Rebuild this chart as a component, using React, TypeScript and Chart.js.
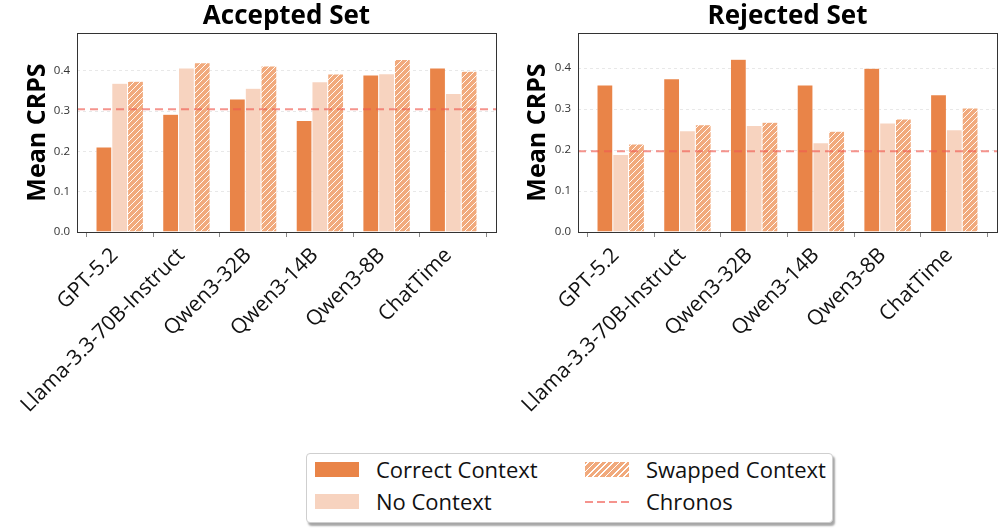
import { useEffect, useRef } from "react";
import { Chart, registerables } from "chart.js";
Chart.register(...registerables);

const models = ["GPT-5.2", "Llama-3.3-70B-Instruct", "Qwen3-32B", "Qwen3-14B", "Qwen3-8B", "ChatTime"];
const yTicks = [0, 0.1, 0.2, 0.3, 0.4];

const acceptedCorrect = [0.211, 0.292, 0.33, 0.277, 0.39, 0.407];
const acceptedNone = [0.369, 0.407, 0.357, 0.373, 0.393, 0.344];
const acceptedSwapped = [0.374, 0.42, 0.412, 0.392, 0.428, 0.399];
const acceptedChronos = 0.305;

const rejectedCorrect = [0.359, 0.374, 0.422, 0.359, 0.4, 0.335];
const rejectedNone = [0.189, 0.247, 0.26, 0.218, 0.266, 0.25];
const rejectedSwapped = [0.215, 0.262, 0.268, 0.246, 0.276, 0.303];
const rejectedChronos = 0.197;

const FONT = "'Open Sans', sans-serif";
const CORRECT = "#E98448";
const NONE = "#F7D3BF";
const SWAP = "#F1AA7D";
const CHRONOS = "rgba(240, 90, 80, 0.65)";

// hatch tile for the swapped-context bars ("///")
function hatch(base: string) {
  const s = 6;
  const c = document.createElement("canvas");
  c.width = s;
  c.height = s;
  const g = c.getContext("2d")!;
  g.fillStyle = base;
  g.fillRect(0, 0, s, s);
  g.strokeStyle = "rgba(255,255,255,0.95)";
  g.lineWidth = 1;
  for (const k of [-1, 0, 1]) {
    g.beginPath();
    g.moveTo(k * s, s);
    g.lineTo(k * s + s, 0);
    g.stroke();
  }
  return g.createPattern(c, "repeat")!;
}

type PanelProps = {
  title: string;
  correct: number[];
  none: number[];
  swapped: number[];
  chronos: number;
  yMax: number;
  yAxisWidth: number;
  padRight: number;
  left: number;
  width: number;
};

function Panel({ title, correct, none, swapped, chronos, yMax, yAxisWidth, padRight, left, width }: PanelProps) {
  const canvasRef = useRef<HTMLCanvasElement>(null);

  useEffect(() => {
    if (!canvasRef.current) return;
    const ctx = canvasRef.current.getContext("2d");
    if (!ctx) return;

    const pts = (vals: number[]) => vals.map((v, i) => ({ x: i, y: v }));
    const bar = { borderColor: "#ffffff", borderWidth: 0.5, categoryPercentage: 0.71, barPercentage: 1 };

    const decor = {
      id: "decor",
      afterDatasetsDraw(chart: any) {
        const { ctx: c, chartArea: a, scales } = chart;
        const y = scales.y.getPixelForValue(chronos);
        c.save();
        c.strokeStyle = CHRONOS;
        c.lineWidth = 2;
        c.setLineDash([8, 5]);
        c.beginPath();
        c.moveTo(a.left, y);
        c.lineTo(a.right, y);
        c.stroke();
        c.restore();
      },
      afterDraw(chart: any) {
        const { ctx: c, chartArea: a } = chart;
        c.save();
        c.strokeStyle = "#333";
        c.lineWidth = 1;
        c.strokeRect(a.left + 0.5, a.top + 0.5, a.right - a.left, a.bottom - a.top);
        c.fillStyle = "#000";
        c.font = `bold 26px ${FONT}`;
        c.textAlign = "center";
        c.textBaseline = "middle";
        c.fillText(title, (a.left + a.right) / 2, 17);
        c.restore();
      },
    };

    const chart = new Chart(ctx, {
      type: "bar",
      data: {
        datasets: [
          { label: "Correct Context", data: pts(correct), backgroundColor: CORRECT, ...bar },
          { label: "No Context", data: pts(none), backgroundColor: NONE, ...bar },
          { label: "Swapped Context", data: pts(swapped), backgroundColor: hatch(SWAP), ...bar },
        ],
      } as any,
      options: {
        animation: false,
        responsive: true,
        maintainAspectRatio: false,
        layout: { padding: { top: 33, right: padRight, left: 0, bottom: 0 } },
        plugins: { legend: { display: false }, title: { display: false }, tooltip: { enabled: false } },
        scales: {
          x: {
            type: "linear",
            min: -0.64,
            max: 5.64,
            offset: false,
            afterBuildTicks: (s: any) => {
              s.ticks = models.map((_, i) => ({ value: i }));
            },
            afterFit: (s: any) => {
              s.height = 208;
            },
            grid: { drawOnChartArea: false, drawTicks: true, tickLength: 5, tickColor: "#888" },
            border: { display: false },
            ticks: {
              autoSkip: false,
              minRotation: 45,
              maxRotation: 45,
              padding: 6,
              labelOffset: -5,
              color: "#111",
              font: { family: FONT, size: 21 },
              callback: (v: any) => models[v] ?? "",
            },
          },
          y: {
            min: 0,
            max: yMax,
            afterBuildTicks: (s: any) => {
              s.ticks = yTicks.map((v) => ({ value: v }));
            },
            afterFit: (s: any) => {
              s.width = yAxisWidth;
            },
            grid: { color: "#e2e2e2", lineWidth: 0.8, drawTicks: false },
            border: { display: false, dash: [3, 3] },
            ticks: {
              padding: 7,
              color: "#333",
              font: { family: FONT, size: 11.5 },
              callback: (v: any) => Number(v).toFixed(1),
            },
            title: {
              display: true,
              text: "Mean CRPS",
              color: "#000",
              font: { family: FONT, size: 25, weight: "bold" },
              padding: { top: 23, bottom: 0 },
            },
          },
        },
      } as any,
      plugins: [decor],
    });

    return () => chart.destroy();
  }, [title, correct, none, swapped, chronos, yMax, yAxisWidth, padRight]);

  return (
    <div style={{ position: "absolute", left, top: 0, width, height: 440 }}>
      <canvas ref={canvasRef} />
    </div>
  );
}

const swatch = { position: "absolute" as const, width: 44, height: 15 };
const label = { position: "absolute" as const, fontFamily: FONT, fontSize: 22, color: "#111", lineHeight: "26px" };

function Legend() {
  return (
    <div
      style={{
        position: "absolute",
        left: 306,
        top: 453,
        width: 527,
        height: 70,
        boxSizing: "border-box",
        border: "1px solid #cfcfcf",
        borderRadius: 4,
        background: "#fff",
        boxShadow: "2px 3px 2px rgba(0,0,0,0.35)",
      }}
    >
      <div style={{ ...swatch, left: 8, top: 8, background: CORRECT }} />
      <div style={{ ...label, left: 69, top: 2 }}>Correct Context</div>
      <div style={{ ...swatch, left: 8, top: 40, background: NONE }} />
      <div style={{ ...label, left: 69, top: 34 }}>No Context</div>
      <div
        style={{
          ...swatch,
          left: 278,
          top: 8,
          background: `repeating-linear-gradient(-45deg, ${SWAP} 0px, ${SWAP} 3.2px, #fff 3.2px, #fff 4.4px)`,
        }}
      />
      <div style={{ ...label, left: 339, top: 2 }}>Swapped Context</div>
      <div
        style={{
          position: "absolute",
          left: 278,
          top: 47,
          width: 44,
          height: 1.5,
          background: `repeating-linear-gradient(90deg, ${CHRONOS} 0px, ${CHRONOS} 8px, transparent 8px, transparent 12px)`,
        }}
      />
      <div style={{ ...label, left: 339, top: 34 }}>Chronos</div>
    </div>
  );
}

export default function App() {
  return (
    <div style={{ position: "absolute", left: 0, top: 0, width: 1003, height: 530, background: "#fff" }}>
      <Panel
        title="Accepted Set"
        correct={acceptedCorrect}
        none={acceptedNone}
        swapped={acceptedSwapped}
        chronos={acceptedChronos}
        yMax={0.494}
        yAxisWidth={77}
        padRight={4}
        left={0}
        width={500}
      />
      <Panel
        title="Rejected Set"
        correct={rejectedCorrect}
        none={rejectedNone}
        swapped={rejectedSwapped}
        chronos={rejectedChronos}
        yMax={0.486}
        yAxisWidth={78}
        padRight={6}
        left={500}
        width={503}
      />
      <Legend />
    </div>
  );
}
